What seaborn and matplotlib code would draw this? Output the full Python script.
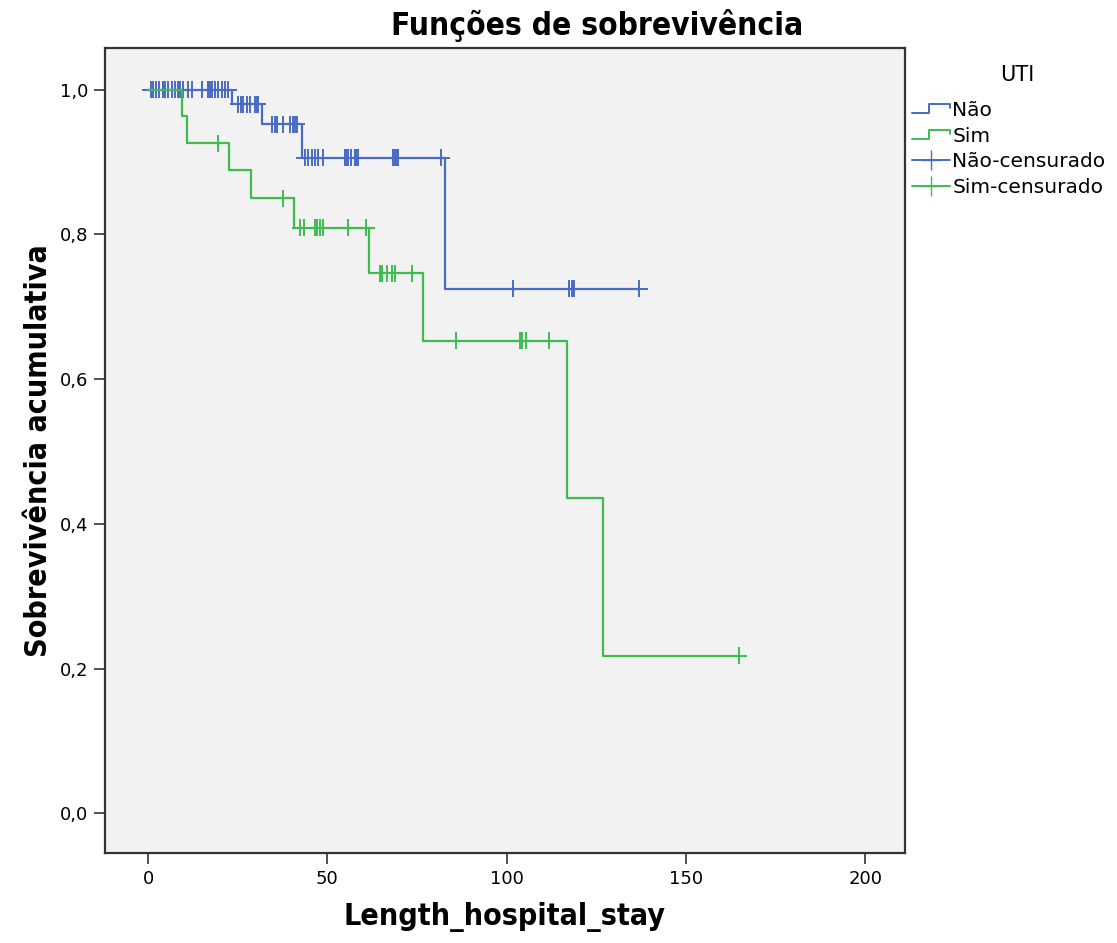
import matplotlib
matplotlib.use('Agg')
import matplotlib.pyplot as plt
import seaborn as sns
import numpy as np
import pandas as pd
from matplotlib.lines import Line2D
from matplotlib.legend_handler import HandlerBase

# Curvas de Kaplan-Meier (tempos de queda e sobrevivência)
tempos_nao = [0, 23.4, 31.8, 42.8, 82.7, 137.0]
surv_nao = [1.0, 0.980, 0.952, 0.906, 0.725, 0.725]

tempos_sim = [0, 9.6, 10.8, 22.6, 28.7, 40.7, 61.7, 76.7, 116.9, 126.8, 164.7]
surv_sim = [1.0, 0.963, 0.926, 0.889, 0.850, 0.809, 0.746, 0.653, 0.436, 0.218, 0.218]

# Tempos censurados
censura_nao = [0.8, 1.4, 2.2, 3.1, 4.2, 4.7, 5.6, 6.7, 7.5, 8.4, 8.9, 9.7, 11.1, 12.3,
               15.0, 16.7, 17.3, 17.8, 18.7, 19.5, 20.6, 21.4, 22.3,
               25.1, 25.9, 26.5, 27.6, 28.4, 29.8, 30.4, 30.6,
               34.5, 35.4, 35.9, 37.6, 39.6, 40.4, 40.9, 41.5,
               43.7, 44.7, 45.6, 46.5, 47.4, 48.8, 54.9, 55.3, 55.8, 56.7, 57.7, 58.1, 58.6,
               68.3, 68.8, 69.3, 69.7, 81.8,
               101.8, 117.5, 118.3, 118.9, 137.0]
censura_sim = [19.6, 37.7, 42.5, 43.5, 46.5, 47.2, 47.9, 48.7, 55.8, 60.9,
               64.6, 65.1, 66.5, 67.9, 68.8, 73.7, 85.8, 103.6, 104.4, 105.5, 111.8, 164.7]

grupos = ['Não', 'Sim']
cores = {'Não': '#4a6bc4', 'Sim': '#3dbd50'}
x_ticks = [0, 50, 100, 150, 200]
y_ticks = [0.0, 0.2, 0.4, 0.6, 0.8, 1.0]
y_tick_labels = ['0,0', '0,2', '0,4', '0,6', '0,8', '1,0']


def surv_em(tempos, surv, t):
    idx = np.searchsorted(tempos, t, side='right') - 1
    return np.array(surv)[idx]


curvas = pd.concat([
    pd.DataFrame({'tempo': tempos_nao, 'surv': surv_nao, 'UTI': 'Não'}),
    pd.DataFrame({'tempo': tempos_sim, 'surv': surv_sim, 'UTI': 'Sim'}),
])
censurados = pd.concat([
    pd.DataFrame({'tempo': censura_nao, 'surv': surv_em(tempos_nao, surv_nao, censura_nao), 'UTI': 'Não'}),
    pd.DataFrame({'tempo': censura_sim, 'surv': surv_em(tempos_sim, surv_sim, censura_sim), 'UTI': 'Sim'}),
])

sns.set_theme(style='white')
plt.rcParams['font.family'] = ['DejaVu Sans']
plt.rcParams['text.color'] = 'black'
plt.rcParams['axes.labelcolor'] = 'black'
plt.rcParams['xtick.color'] = 'black'
plt.rcParams['ytick.color'] = 'black'

fig = plt.figure(figsize=(11.17, 9.43), dpi=100)
ax = fig.add_axes([0.094, 0.0954, 0.716, 0.854])
ax.set_facecolor('#f2f2f2')

sns.lineplot(data=curvas, x='tempo', y='surv', hue='UTI', palette=cores,
             drawstyle='steps-post', linewidth=1.6, errorbar=None, legend=False, ax=ax)
sns.scatterplot(data=censurados, x='tempo', y='surv', hue='UTI', palette=cores,
                marker='+', s=150, linewidth=1.4, legend=False, ax=ax)

ax.set_xlim(-12, 211)
ax.set_ylim(-0.055, 1.058)
ax.set_xticks(x_ticks)
ax.set_yticks(y_ticks)
ax.set_yticklabels(y_tick_labels)
ax.tick_params(direction='out', length=8, width=1.2, color='#333333', labelsize=13,
               pad=4, bottom=True, left=True)
for s in ax.spines.values():
    s.set_color('#333333')
    s.set_linewidth(1.6)

fonte_titulo = dict(family='DejaVu Sans', fontstretch='condensed', fontweight='bold')
ax.set_xlabel('Length_hospital_stay', fontsize=21.8, labelpad=10, **fonte_titulo)
ax.set_ylabel('Sobrevivência acumulativa', fontsize=21.8, labelpad=5, **fonte_titulo)
fig.text(0.535, 0.973, 'Funções de sobrevivência', ha='center', va='center',
         fontsize=22.7, **fonte_titulo)


class HandlerDegrau(HandlerBase):
    # desenha o pequeno degrau da legenda
    def create_artists(self, legend, orig_handle, xdescent, ydescent, width, height, fontsize, trans):
        xs = np.array([0, 0.45, 0.45, 1.0, 1.0]) * width - xdescent
        ys = np.array([0.2, 0.2, 0.85, 0.85, 0.55]) * height - ydescent
        linha = Line2D(xs, ys, color=orig_handle.get_color(), linewidth=1.4, transform=trans)
        return [linha]


handles = [
    Line2D([], [], color=cores['Não']),
    Line2D([], [], color=cores['Sim']),
    Line2D([], [], color=cores['Não'], marker='+', markersize=14, linewidth=1.4),
    Line2D([], [], color=cores['Sim'], marker='+', markersize=14, linewidth=1.4),
]
labels = ['Não', 'Sim', 'Não-censurado', 'Sim-censurado']
fig.text(0.911, 0.920, 'UTI', ha='center', va='center', fontsize=15)
leg = fig.legend(handles, labels, loc='upper left', bbox_to_anchor=(0.8165, 0.893),
                 frameon=False, fontsize=14.5, handlelength=1.9, borderpad=0,
                 handletextpad=0.1, labelspacing=0.33, borderaxespad=0,
                 handler_map={handles[0]: HandlerDegrau(), handles[1]: HandlerDegrau()})

fig.savefig('out.png', dpi=100)
